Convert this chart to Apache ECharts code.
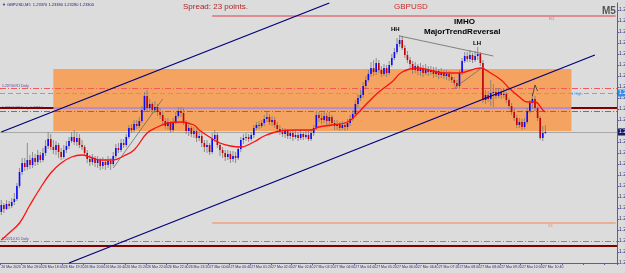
<!DOCTYPE html>
<html>
<head>
<meta charset="utf-8">
<script src="https://cdn.jsdelivr.net/npm/echarts@6/dist/echarts.min.js"></script>
<style>
  html, body { margin: 0; padding: 0; background: #dcdcdc; }
  #chart { width: 625px; height: 273px; }
</style>
</head>
<body>
<div id="chart"></div>
<script>
// GBPUSD M5, 26 Mar 17:20 -> 27 Mar 10:45 (one bar = 5 min)
var firstOpen = 1.2250;
var closes = [
  1.2257,1.2253,1.2258,1.2256,1.2260,1.2263,1.2276,1.2290,1.2299,1.2295,
  1.2302,1.2297,1.2304,1.2300,1.2307,1.2302,1.2309,1.2316,1.2323,1.2315,
  1.2312,1.2317,1.2310,1.2305,1.2312,1.2316,1.2321,1.2325,1.2320,1.2324,
  1.2317,1.2315,1.2309,1.2303,1.2300,1.2304,1.2299,1.2302,1.2296,1.2300,
  1.2297,1.2301,1.2298,1.2306,1.2314,1.2312,1.2319,1.2317,1.2325,1.2334,
  1.2332,1.2338,1.2336,1.2341,1.2352,1.2366,1.2354,1.2358,1.2352,1.2355,
  1.2350,1.2347,1.2341,1.2336,1.2340,1.2332,1.2340,1.2346,1.2351,1.2349,
  1.2340,1.2331,1.2334,1.2328,1.2331,1.2324,1.2326,1.2319,1.2315,1.2317,
  1.2310,1.2323,1.2327,1.2317,1.2312,1.2309,1.2305,1.2308,1.2303,1.2306,
  1.2304,1.2313,1.2322,1.2324,1.2325,1.2323,1.2327,1.2334,1.2337,1.2336,
  1.2339,1.2343,1.2345,1.2340,1.2342,1.2337,1.2333,1.2330,1.2328,1.2331,
  1.2326,1.2329,1.2325,1.2327,1.2324,1.2328,1.2325,1.2327,1.2323,1.2329,
  1.2334,1.2347,1.2344,1.2342,1.2346,1.2341,1.2345,1.2339,1.2336,1.2338,
  1.2334,1.2337,1.2335,1.2339,1.2343,1.2348,1.2358,1.2364,1.2367,1.2376,
  1.2382,1.2388,1.2394,1.2390,1.2399,1.2392,1.2388,1.2394,1.2389,1.2397,
  1.2404,1.2410,1.2418,1.2422,1.2414,1.2407,1.2402,1.2398,1.2392,1.2396,
  1.2391,1.2394,1.2389,1.2393,1.2390,1.2392,1.2388,1.2391,1.2387,1.2390,
  1.2386,1.2388,1.2385,1.2382,1.2379,1.2376,1.2389,1.2401,1.2406,1.2403,
  1.2407,1.2402,1.2406,1.2408,1.2399,1.2362,1.2367,1.2363,1.2369,1.2370,
  1.2366,1.2370,1.2367,1.2368,1.2362,1.2356,1.2350,1.2344,1.2337,1.2340,
  1.2335,1.2340,1.2351,1.2359,1.2363,1.2354,1.2344,1.2324,1.2329,1.2330
];
var highs = [
  1.2262,1.2259,1.2262,1.2261,1.2264,1.2269,1.2279,1.2294,1.2304,1.2304,
  1.2319,1.2307,1.2310,1.2308,1.2312,1.2310,1.2314,1.2322,1.2330,1.2328,
  1.2322,1.2321,1.2319,1.2314,1.2317,1.2321,1.2325,1.2330,1.2332,1.2330,
  1.2328,1.2322,1.2317,1.2312,1.2307,1.2308,1.2306,1.2306,1.2304,1.2305,
  1.2303,1.2306,1.2304,1.2310,1.2318,1.2319,1.2323,1.2323,1.2328,1.2337,
  1.2338,1.2342,1.2342,1.2345,1.2356,1.2370,1.2372,1.2363,1.2360,1.2361,
  1.2358,1.2354,1.2350,1.2344,1.2344,1.2341,1.2344,1.2350,1.2355,1.2355,
  1.2354,1.2342,1.2338,1.2336,1.2335,1.2333,1.2331,1.2329,1.2322,1.2322,
  1.2319,1.2329,1.2332,1.2330,1.2319,1.2315,1.2312,1.2312,1.2311,1.2311,
  1.2310,1.2316,1.2325,1.2328,1.2329,1.2328,1.2330,1.2337,1.2340,1.2341,
  1.2342,1.2347,1.2350,1.2348,1.2346,1.2345,1.2340,1.2337,1.2334,1.2334,
  1.2333,1.2332,1.2331,1.2331,1.2330,1.2332,1.2330,1.2332,1.2331,1.2333,
  1.2337,1.2350,1.2350,1.2349,1.2350,1.2349,1.2350,1.2347,1.2342,1.2342,
  1.2340,1.2341,1.2340,1.2343,1.2347,1.2352,1.2362,1.2368,1.2372,1.2380,
  1.2386,1.2392,1.2400,1.2402,1.2404,1.2402,1.2396,1.2398,1.2397,1.2401,
  1.2408,1.2414,1.2424,1.2427,1.2426,1.2417,1.2411,1.2405,1.2401,1.2400,
  1.2398,1.2399,1.2397,1.2398,1.2396,1.2396,1.2395,1.2395,1.2393,1.2394,
  1.2392,1.2392,1.2391,1.2388,1.2385,1.2382,1.2392,1.2404,1.2410,1.2410,
  1.2412,1.2409,1.2411,1.2415,1.2410,1.2402,1.2372,1.2371,1.2382,1.2378,
  1.2374,1.2374,1.2373,1.2374,1.2370,1.2364,1.2359,1.2354,1.2347,1.2344,
  1.2343,1.2344,1.2354,1.2362,1.2369,1.2366,1.2356,1.2346,1.2336,1.2337
];
var lows = [
  1.2247,1.2249,1.2252,1.2253,1.2254,1.2257,1.2261,1.2274,1.2287,1.2291,
  1.2292,1.2293,1.2294,1.2296,1.2297,1.2299,1.2300,1.2306,1.2313,1.2312,
  1.2308,1.2307,1.2304,1.2302,1.2303,1.2309,1.2313,1.2319,1.2317,1.2316,
  1.2314,1.2312,1.2306,1.2299,1.2296,1.2297,1.2295,1.2294,1.2292,1.2293,
  1.2292,1.2294,1.2292,1.2296,1.2304,1.2309,1.2310,1.2314,1.2315,1.2323,
  1.2329,1.2330,1.2333,1.2334,1.2339,1.2350,1.2351,1.2350,1.2348,1.2349,
  1.2346,1.2343,1.2338,1.2333,1.2332,1.2329,1.2330,1.2338,1.2344,1.2345,
  1.2337,1.2328,1.2326,1.2325,1.2324,1.2320,1.2321,1.2315,1.2310,1.2309,
  1.2307,1.2308,1.2320,1.2314,1.2306,1.2304,1.2301,1.2302,1.2299,1.2300,
  1.2299,1.2302,1.2310,1.2318,1.2321,1.2320,1.2321,1.2324,1.2332,1.2333,
  1.2334,1.2336,1.2340,1.2337,1.2336,1.2334,1.2330,1.2327,1.2325,1.2324,
  1.2323,1.2323,1.2321,1.2323,1.2321,1.2322,1.2322,1.2323,1.2321,1.2321,
  1.2326,1.2332,1.2340,1.2338,1.2339,1.2337,1.2338,1.2336,1.2332,1.2332,
  1.2331,1.2332,1.2331,1.2332,1.2336,1.2341,1.2346,1.2355,1.2361,1.2364,
  1.2373,1.2380,1.2385,1.2386,1.2387,1.2389,1.2385,1.2386,1.2385,1.2387,
  1.2395,1.2402,1.2408,1.2415,1.2412,1.2404,1.2399,1.2394,1.2388,1.2389,
  1.2387,1.2386,1.2385,1.2387,1.2386,1.2387,1.2384,1.2385,1.2383,1.2384,
  1.2383,1.2382,1.2381,1.2379,1.2376,1.2373,1.2374,1.2387,1.2399,1.2400,
  1.2400,1.2399,1.2400,1.2402,1.2396,1.2359,1.2358,1.2360,1.2356,1.2355,
  1.2363,1.2364,1.2363,1.2364,1.2359,1.2353,1.2347,1.2341,1.2334,1.2334,
  1.2332,1.2333,1.2338,1.2349,1.2353,1.2351,1.2341,1.2322,1.2321,1.2328
];
// moving average (red), read at sample bars
var maPoints = [
  [0,1.2222],[3,1.2229],[7,1.2239],[11,1.2257],[15,1.2274],[19,1.2289],[23,1.2299],
  [27,1.2305],[31,1.2307],[34,1.2305],[38,1.2302],[43,1.2302],[47,1.2306],[51,1.2312],
  [56,1.2329],[60,1.2335],[64,1.2339],[69,1.2340],[74,1.2337],[76,1.2332],[80,1.2325],
  [84,1.2319],[88,1.2316],[92,1.2315],[97,1.2320],[101,1.2326],[107,1.2331],[113,1.2332],
  [119,1.2332],[122,1.2335],[127,1.2337],[133,1.2340],[137,1.2349],[141,1.2360],[145,1.2370],
  [150,1.2380],[154,1.2390],[160,1.2394],[170,1.2389],[176,1.2389],[184,1.2394],[188,1.2389],
  [192,1.2382],[195,1.2374],[199,1.2365],[202,1.2360],[205,1.2360],[208,1.2352],[209,1.2350]
];
var tickLabels = [
  "26 Mar 2020","26 Mar 18:00","26 Mar 18:40","26 Mar 19:20","26 Mar 20:00","26 Mar 20:40",
  "26 Mar 21:20","26 Mar 22:00","26 Mar 22:40","26 Mar 23:20","27 Mar 00:00","27 Mar 00:40",
  "27 Mar 01:20","27 Mar 02:00","27 Mar 02:40","27 Mar 03:20","27 Mar 04:00","27 Mar 04:40",
  "27 Mar 05:20","27 Mar 06:00","27 Mar 06:40","27 Mar 07:20","27 Mar 08:00","27 Mar 08:40",
  "27 Mar 09:20","27 Mar 10:00","27 Mar 10:40"
];
// drawn objects (bar index, price)
var channelUpper = [[0,1.2330],[126,1.2459]];
var channelLower = [[26,1.2199],[228,1.2407]];
var hhLhLine = [[153,1.2426],[189,1.2406]];
var riseLine1 = [[43,1.2294],[62,1.2363]];
var riseLine2 = [[174,1.2374],[185,1.2395]];
var sellArrow = [[204,1.2366],[205,1.2377],[206,1.2371]];
var zoneBox = { from: 20, to: 219, top: 1.2393, bottom: 1.2331 };
var levels = {
  r1: 1.2446, pivotR: 1.2374, d1High: 1.2369, pp: 1.2354, ppDash: 1.2351,
  bid: 1.2330, s1: 1.2239, pivotS: 1.2221, ppLow: 1.2216
};
var totalSlots = 237;

var cats = [];
for (var k = 0; k < totalSlots; k++) cats.push(String(k));
var candleData = closes.map(function (c, i) {
  var o = i === 0 ? firstOpen : closes[i - 1];
  return [i, o, c, lows[i], highs[i]];
});

var chart = echarts.init(document.getElementById('chart'));
var fnt = 'Liberation Sans, Arial, sans-serif';

function seg(data, color, width, z) {
  return { type: 'line', data: data, symbol: 'none', silent: true, z: z || 5,
    lineStyle: { color: color, width: width }, animation: false };
}

var option = {
  backgroundColor: '#dcdcdc',
  animation: false,
  grid: { left: 0, right: 8, top: 3, bottom: 10, containLabel: false, outerBoundsMode: 'none' },
  xAxis: {
    type: 'category', data: cats, boundaryGap: true,
    axisLine: { lineStyle: { color: '#5a5aae', width: 1 } },
    axisTick: { show: true, interval: 7, length: 2, lineStyle: { color: '#5a5aae' } },
    axisLabel: {
      interval: 7, fontSize: 3.5, color: '#2a2a80', margin: 2, align: 'left', fontFamily: fnt,
      formatter: function (v, idx) { return tickLabels[idx / 8] || ''; }
    },
    splitLine: { show: false }
  },
  yAxis: {
    type: 'value', position: 'right', min: 1.2199, max: 1.2459, interval: 0.0011, scale: true,
    axisLine: { show: true, lineStyle: { color: '#5a5aae', width: 1 } },
    axisTick: { show: true, length: 2, lineStyle: { color: '#5a5aae' } },
    axisLabel: { fontSize: 5, color: '#2a2a80', margin: 2, showMaxLabel: false, fontFamily: fnt,
      formatter: function (v) { return v.toFixed(5); } },
    splitLine: { show: false }
  },
  series: [
    { type: 'line', data: [], z: 1, silent: true,
      markArea: { silent: true, z: 1, itemStyle: { color: '#f4a460', opacity: 1 },
        data: [[{ coord: [zoneBox.from, zoneBox.top] }, { coord: [zoneBox.to, zoneBox.bottom] }]] } },
    { type: 'line', data: [], z: 2, silent: true,
      markLine: { silent: true, z: 2, precision: 5, symbol: ['none', 'none'], label: { show: false },
        data: [
          { yAxis: levels.pivotR, lineStyle: { color: '#f05a5a', width: 1, type: [6, 2, 1, 2] } },
          { yAxis: levels.d1High, lineStyle: { color: '#6aaaf0', width: 1, type: [5, 3] },
            label: { show: true, position: 'end', distance: 1, formatter: levels.d1High.toFixed(5),
              fontSize: 5, color: '#fff', backgroundColor: '#3c8ce6', padding: [1, 1], fontFamily: fnt } },
          { yAxis: levels.pp, lineStyle: { color: '#800000', width: 2, type: 'solid' } },
          { yAxis: levels.ppDash, lineStyle: { color: '#8b6f47', width: 1, type: [6, 2, 1, 2] } },
          { yAxis: levels.bid, lineStyle: { color: '#a8a8a8', width: 1, type: 'solid' },
            label: { show: true, position: 'end', distance: 1, formatter: levels.bid.toFixed(5),
              fontSize: 5, color: '#fff', backgroundColor: '#1a1a6a', padding: [1, 1], fontFamily: fnt } },
          { yAxis: levels.pivotS, lineStyle: { color: '#e0606e', width: 1, type: [6, 2, 1, 2] } },
          { yAxis: levels.ppLow, lineStyle: { color: '#800000', width: 2, type: 'solid' } }
        ] } },
    seg([[zoneBox.from, levels.pp], [zoneBox.to, levels.pp]], '#b58ccf', 2, 3),
    seg([[81, levels.r1], [236, levels.r1]], '#e0707a', 1.5, 3),
    seg([[81, levels.s1], [236, levels.s1]], '#f0a080', 1.5, 3),
    {
      type: 'custom', z: 4, silent: true,
      data: candleData,
      encode: { x: 0, y: [1, 2, 3, 4] },
      renderItem: function (params, api) {
        var i = api.value(0);
        var o = api.coord([i, api.value(1)]);
        var c = api.coord([i, api.value(2)]);
        var lo = api.coord([i, api.value(3)]);
        var hi = api.coord([i, api.value(4)]);
        var w = Math.max(1.4, api.size([1, 0])[0] * 0.62);
        var up = api.value(2) >= api.value(1);
        var top = Math.min(o[1], c[1]);
        var h = Math.max(Math.abs(o[1] - c[1]), 1);
        return { type: 'group', children: [
          { type: 'line', shape: { x1: o[0], y1: hi[1], x2: o[0], y2: lo[1] },
            style: { stroke: '#7a7a7a', lineWidth: 0.8 } },
          { type: 'rect', shape: { x: o[0] - w / 2, y: top, width: w, height: h },
            style: { fill: up ? '#0a0aff' : '#c40000' } }
        ] };
      }
    },
    Object.assign(seg(maPoints, '#ff1010', 1.3, 6), { smooth: 0.4 }),
    seg(channelUpper, '#00007a', 1.3, 7),
    seg(channelLower, '#00007a', 1.3, 7),
    seg(hhLhLine, '#6a6a6a', 0.8, 7),
    seg(riseLine1, '#6a6a6a', 0.8, 7),
    seg(riseLine2, '#6a6a6a', 0.8, 7),
    seg(sellArrow, '#303030', 0.8, 7)
  ],
  graphic: [
    { type: 'text', left: 2, top: 3, style: { text: '\u25BC GBPUSD,M5  1.23370 1.23380 1.23280 1.23300', fontSize: 4, fill: '#20207a', fontFamily: fnt } },
    { type: 'text', left: 183, top: 2.5, style: { text: 'Spread: 23 points.', fontSize: 8, fill: '#b02424', fontFamily: fnt } },
    { type: 'text', left: 394, top: 2.5, style: { text: 'GBPUSD', fontSize: 8, fill: '#d02a2a', fontFamily: fnt } },
    { type: 'text', left: 602, top: 6, style: { text: 'M5', fontSize: 10, fontWeight: 'bold', fill: '#555555', fontFamily: fnt } },
    { type: 'text', left: 391, top: 26, style: { text: 'HH', fontSize: 6, fontWeight: 'bold', fill: '#000', fontFamily: fnt } },
    { type: 'text', left: 454, top: 18, style: { text: 'IMHO', fontSize: 8, fontWeight: 'bold', fill: '#000', fontFamily: fnt } },
    { type: 'text', left: 424, top: 28, style: { text: 'MajorTrendReversal', fontSize: 8, fontWeight: 'bold', fill: '#000', fontFamily: fnt } },
    { type: 'text', left: 473, top: 40, style: { text: 'LH', fontSize: 6, fontWeight: 'bold', fill: '#000', fontFamily: fnt } },
    { type: 'text', left: 530, top: 77, style: { text: 'SELL', fontSize: 9, fontWeight: 'bold', fill: '#000', fontFamily: fnt } },
    { type: 'text', left: 549, top: 17, style: { text: 'R1', fontSize: 4, fill: '#e0606e', fontFamily: fnt } },
    { type: 'text', left: 548, top: 224, style: { text: 'S1', fontSize: 4, fill: '#e89070', fontFamily: fnt } },
    { type: 'text', left: 568, top: 92, style: { text: 'D1 High', fontSize: 4, fill: '#5a9ee8', fontFamily: fnt } },
    { type: 'text', left: 2, top: 84, style: { text: '1.23740 R1 Daily', fontSize: 3.5, fill: '#6040a0', fontFamily: fnt } },
    { type: 'text', left: 2, top: 106, style: { text: '1.23540 PP Daily 1.23510', fontSize: 3.5, fill: '#6040a0', fontFamily: fnt } },
    { type: 'text', left: 2, top: 237, style: { text: '1.22210 S1 Daily', fontSize: 3.5, fill: '#6040a0', fontFamily: fnt } }
  ]
};
chart.setOption(option);
</script>
</body>
</html>
